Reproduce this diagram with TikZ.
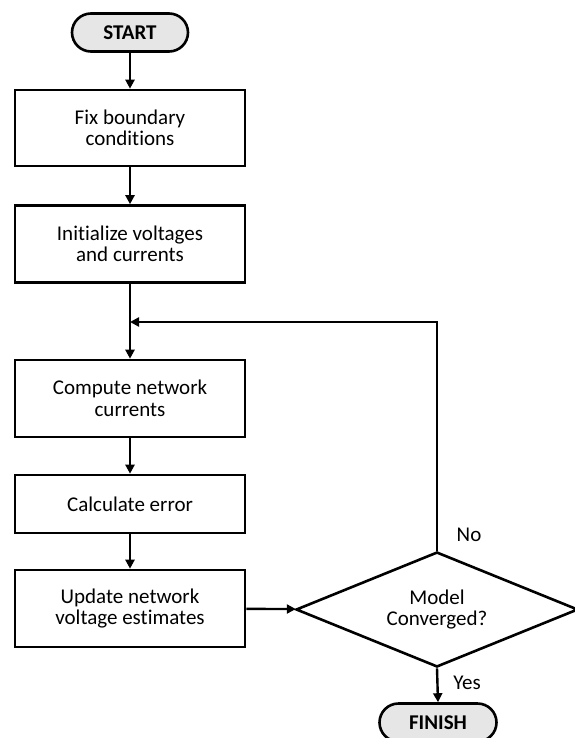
\documentclass[tikz,border=0pt]{standalone}
\usepackage{fontspec}
\setmainfont{Carlito}[Ligatures=NoCommon]
\usetikzlibrary{shapes.geometric,arrows.meta}
\definecolor{termfill}{HTML}{E6E6E6}
\begin{document}
\begin{tikzpicture}[x=1pt,y=-1pt,
  font=\fontsize{21}{21.5}\selectfont,
  every node/.style={line width=2.6pt},
  procbox/.style={draw, rectangle, minimum width=230pt, inner sep=0pt, align=center},
  term/.style={draw, fill=termfill, rounded corners=19pt, minimum width=116pt, minimum height=38pt, inner sep=0pt, font=\fontsize{21}{21.5}\selectfont\bfseries},
  decide/.style={draw, diamond, minimum width=282pt, minimum height=115pt, inner sep=0pt},
  flow/.style={line width=2.4pt, -{Triangle[length=9pt,width=9pt]}}]
\useasboundingbox (0,0) rectangle (574,738);
\node[term] (start) at (130,32.5) {START};
\node[procbox, minimum height=76pt] (fix) at (130,128) {Fix boundary\\conditions};
\node[procbox, minimum height=77pt] (init) at (130,244) {Initialize voltages\\and currents};
\node[procbox, minimum height=77pt] (comp) at (130,398.5) {Compute network\\currents};
\node[procbox, minimum height=58pt] (calc) at (130,504) {Calculate error};
\node[procbox, minimum height=77pt] (upd) at (130,608.5) {Update network\\voltage estimates};
% decision diamond keeps a fixed size; its text is set on top
\node[decide] (conv) at (437,609.5) {};
\node[align=center] (convtext) at (conv.center) {Model\\Converged?};
\node[term, minimum width=117pt] (finish) at (438,722.5) {FINISH};
\coordinate (join) at (130,322);
\node (no) at (469,535) {No};
\node (yes) at (467,683) {Yes};
\draw[flow] (start) -- (fix);
\draw[flow] (fix) -- (init);
\draw[flow] (init) -- (comp);
\draw[flow] (comp) -- (calc);
\draw[flow] (calc) -- (upd);
\draw[flow] (upd) -- (conv);
\draw[flow] (conv.north) |- (join);
\draw[flow] (conv.south) -- (finish.north);
\end{tikzpicture}
\end{document}
